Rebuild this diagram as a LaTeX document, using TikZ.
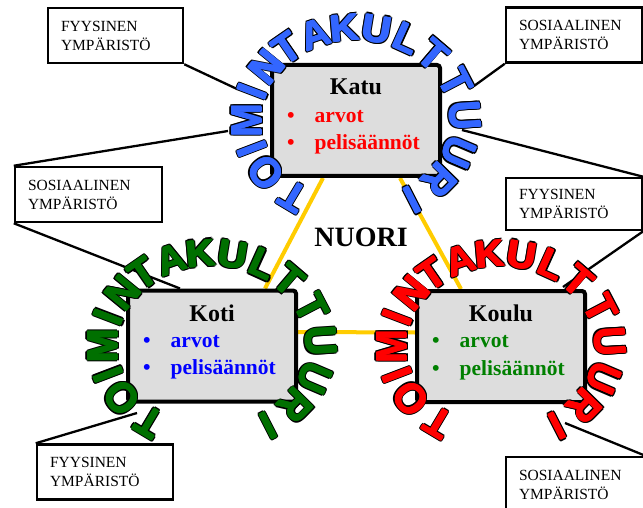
\documentclass[tikz,border=0pt]{standalone}
\usepackage{fontspec}
\setmainfont{Liberation Serif}
\newfontfamily\ringfamily{Liberation Sans}
\usepackage{tikz}
\usetikzlibrary{backgrounds}
\definecolor{ringblue}{RGB}{51,102,255}
\definecolor{ringgreen}{RGB}{0,112,0}
\definecolor{ringred}{RGB}{255,0,0}
\definecolor{boxgray}{RGB}{221,221,221}
\definecolor{linkyellow}{RGB}{255,204,0}
\definecolor{itemgreen}{RGB}{0,128,0}
\newcommand\ringcopy[3]{\rlap{\kern#1\raisebox{#2}{\color{black}#3}}}
\newcommand\ringfat[3]{\rlap{\kern#1\raisebox{#2}{#3}}}
\newcommand\ringoutline[1]{\ringcopy{-1.7pt}{0pt}{#1}\ringcopy{1.7pt}{0pt}{#1}\ringcopy{0pt}{1.7pt}{#1}\ringcopy{0pt}{-1.7pt}{#1}%
  \ringcopy{-1.2pt}{1.2pt}{#1}\ringcopy{1.2pt}{1.2pt}{#1}\ringcopy{-1.2pt}{-1.2pt}{#1}\ringcopy{1.2pt}{-1.2pt}{#1}%
  \ringfat{-.6pt}{0pt}{#1}\ringfat{.6pt}{0pt}{#1}\ringfat{0pt}{.6pt}{#1}\ringfat{0pt}{-.6pt}{#1}#1}
\tikzstyle{setting}=[draw=black,fill=boxgray,line width=4pt,rounded corners=3pt,minimum width=168pt,minimum height=111pt,inner sep=0pt]
\tikzstyle{settitle}=[font=\fontsize{24}{28}\selectfont\bfseries,anchor=base,inner sep=0pt]
\tikzstyle{setitem}=[font=\fontsize{21.5}{26}\selectfont\bfseries,anchor=base west,inner sep=0pt]
\tikzstyle{envbox}=[draw=black,fill=white,line width=2.5pt,minimum height=55pt,inner xsep=13pt,align=left,font=\fontsize{15.5}{19}\selectfont]
\tikzstyle{nuorilink}=[draw=linkyellow,line width=4pt]
\tikzstyle{envline}=[draw=black,line width=2.3pt]
\tikzstyle{ringletter}=[font=\ringfamily\bfseries\fontsize{37}{37}\selectfont,inner sep=0pt,anchor=center]

\begin{document}
\begin{tikzpicture}[x=1pt,y=-1pt]
  \useasboundingbox (0,0) rectangle (643,508);
  %Nodes
  \node[setting]  (katu)   at (356,120.5) {};
  \node[setting]  (koti)   at (212,346)   {};
  \node[setting]  (koulu)  at (501,346.5) {};

  \node[settitle] (katut)  at (356,95)    {Katu};
  \node[settitle] (kotit)  at (212,321)   {Koti};
  \node[settitle] (koulut) at (501,321)   {Koulu};

  \node[setitem,text=red]       (katu1)  at (287,123)   {\textbullet\hspace{20pt}arvot};
  \node[setitem,text=red]       (katu2)  at (287,150)   {\textbullet\hspace{20pt}pelisäännöt};
  \node[setitem,text=blue]      (koti1)  at (143,347)   {\textbullet\hspace{20pt}arvot};
  \node[setitem,text=blue]      (koti2)  at (143,374.5) {\textbullet\hspace{20pt}pelisäännöt};
  \node[setitem,text=itemgreen] (koulu1) at (432,347.5) {\textbullet\hspace{20pt}arvot};
  \node[setitem,text=itemgreen] (koulu2) at (432,375)   {\textbullet\hspace{20pt}pelisäännöt};

  \node[font=\fontsize{28}{32}\selectfont\bfseries] (nuori) at (361,237) {NUORI};

  %Rings
  \foreach \cx/\cy/\col [count=\r] in {356/120.5/ringblue,212/346/ringgreen,501/346.5/ringred}
    \foreach \t/\ch [count=\i] in {235/T,214/O,198/I,180/M,162/I,145/N,129/T,112/A,96/K,79/U,62/L,45/T,24/T,3/U,-20/U,-40/R,-59/I}
    {
      \pgfmathsetmacro\rot{atan2(109*sin(\t),93*cos(\t))-90}
      \pgfmathsetmacro\ys{1+0.17*abs(cos(\t))}
      \node[ringletter,text=\col,rotate=\rot,xscale=1.08,yscale=\ys] (r\r-\i) at ({\cx+109*cos(\t)},{\cy-93*sin(\t)}) {\ringoutline{\ch}};
    }

  %Environments
  \node[envbox,minimum width=135pt,text width=109pt] (fyys1) at (115.5,35.5) {FYYSINEN\\YMPÄRISTÖ};
  \node[envbox,minimum width=147pt,text width=121pt] (sos1)  at (88.5,194.5) {SOSIAALINEN\\YMPÄRISTÖ};
  \node[envbox,minimum width=136pt,text width=110pt] (sos2)  at (574,35)    {SOSIAALINEN\\YMPÄRISTÖ};
  \node[envbox,minimum width=136pt,text width=110pt,minimum height=52pt] (fyys2) at (574,204) {FYYSINEN\\YMPÄRISTÖ};
  \node[envbox,minimum width=136pt,text width=110pt] (fyys3) at (105,472)   {FYYSINEN\\YMPÄRISTÖ};
  \node[envbox,minimum width=138pt,text width=112pt] (sos3)  at (575,484.5) {SOSIAALINEN\\YMPÄRISTÖ};

  \coordinate (fyys1end)  at (237,89);
  \coordinate (sos1end)   at (228,131);
  \coordinate (sos2end)   at (474,86);
  \coordinate (fyys2end)  at (462,130);
  \coordinate (fyys2end2) at (563,287);
  \coordinate (fyys3end)  at (137,413);
  \coordinate (sos3end)   at (565,423);

  %Lines
  \begin{pgfonlayer}{background}
    \draw[nuorilink] ([xshift=-33pt]katu.south) -- ([xshift=53pt]koti.north);
    \draw[nuorilink] ([xshift=44pt]katu.south) -- ([xshift=-40pt]koulu.north);
    \draw[nuorilink] ([yshift=14pt]koti.east) -- ([yshift=14pt]koulu.west);
    \draw[envline] (fyys1.south east) -- (fyys1end);
    \draw[envline] (sos1.north west) -- (sos1end);
    \draw[envline] (sos1.south west) -- ([xshift=-32pt]koti.north);
    \draw[envline] (sos2.south west) -- (sos2end);
    \draw[envline] (fyys2.north east) -- (fyys2end);
    \draw[envline] (fyys2.south east) -- (fyys2end2);
    \draw[envline] (fyys3.north west) -- (fyys3end);
    \draw[envline] (sos3.north east) -- (sos3end);
  \end{pgfonlayer}
\end{tikzpicture}
\end{document}
